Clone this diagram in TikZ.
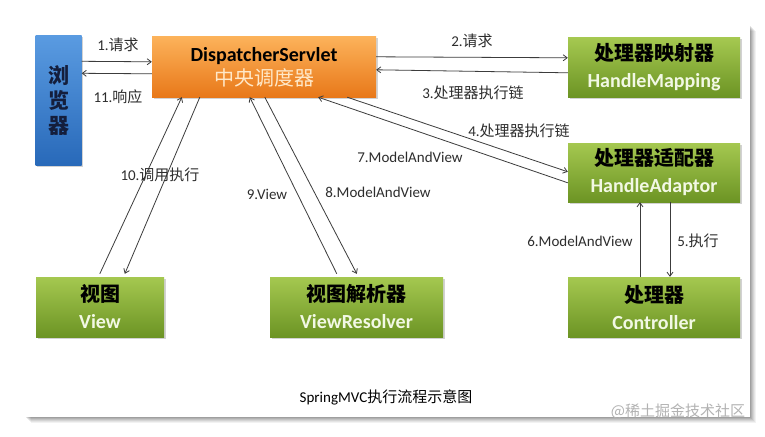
\documentclass[tikz,border=0pt]{standalone}
\usepackage{fontspec}
\setmainfont{Carlito}
\newfontfamily\cjk{Noto Sans CJK SC}
\usetikzlibrary{arrows.meta,shadows}
\definecolor{gtop}{RGB}{165,200,80}
\definecolor{gbot}{RGB}{108,148,36}
\definecolor{otop}{RGB}{252,178,90}
\definecolor{obot}{RGB}{232,120,25}
\definecolor{btop}{RGB}{90,155,225}
\definecolor{bbot}{RGB}{40,105,185}
\definecolor{gtext}{RGB}{242,248,228}
\definecolor{otext}{RGB}{255,232,200}
\definecolor{navy}{RGB}{20,30,60}
\definecolor{lbl}{RGB}{45,45,45}
\definecolor{ln}{RGB}{60,60,60}
\newcommand\zh[1]{{\cjk #1}}
\newcommand\zhb[1]{{\cjk\bfseries #1}}
\tikzset{
  boxbase/.style={inner sep=0pt, align=center, draw=none,
    drop shadow={opacity=0.35, shadow xshift=1.5pt, shadow yshift=-1.5pt}},
  greenbox/.style={boxbase, top color=gtop, bottom color=gbot,
    minimum width=172pt, minimum height=59pt,
    font=\fontsize{20}{27}\selectfont},
  orangebox/.style={boxbase, top color=otop, bottom color=obot,
    minimum width=224pt, minimum height=60pt,
    font=\fontsize{20}{24}\selectfont},
  bluebox/.style={boxbase, top color=btop, bottom color=bbot,
    minimum width=46pt, minimum height=130pt, text=navy,
    font=\fontsize{21}{25}\selectfont},
  arr/.style={draw=ln, line width=0.8pt, -{Straight Barb[length=4pt,width=6pt]}},
  lab/.style={text=lbl, font=\fontsize{15}{18}\selectfont, inner sep=1pt},
}
\begin{document}
\begin{tikzpicture}[x=1pt,y=-1pt]
\useasboundingbox (0,0) rectangle (765,436);
% panel shadow
\foreach \i/\o in {1/0.10,2/0.09,3/0.08,4/0.07,5/0.06,6/0.05}{
  \fill[black, opacity=\o] (25+\i,25+\i) rectangle (750+\i,417+\i);
}
\fill[white] (0,0) rectangle (750,417);

% nodes
\node[bluebox] (br) at (58.5,100.5) {\zhb{浏}\\\zhb{览}\\\zhb{器}};
\node[orangebox] (ds) at (264,67) {{\bfseries\color{black}DispatcherServlet}\\{\cjk\color{otext}中央调度器}};
\node[greenbox] (hm) at (654,67.5) {\zhb{处理器映射器}\\{\bfseries\color{gtext}HandleMapping}};
\node[greenbox] (ha) at (654,172.5) {\zhb{处理器适配器}\\{\bfseries\color{gtext}HandleAdaptor}};
\node[greenbox, minimum width=128pt, minimum height=60pt] (view) at (100,307) {\zhb{视图}\\{\bfseries\color{gtext}View}};
\node[greenbox, minimum width=173pt, minimum height=60pt] (vr) at (356.5,307) {\zhb{视图解析器}\\{\bfseries\color{gtext}ViewResolver}};
\node[greenbox, minimum height=60pt] (ctrl) at (654,307) {\zhb{处理器}\\{\bfseries\color{gtext}Controller}};

% connectors
\draw[arr] ([yshift=-26pt]br.north east) -- ([yshift=-25pt]ds.north west);
\draw[arr] ([yshift=-37pt]ds.north west) -- ([yshift=-38pt]br.north east);
\draw[arr] ([yshift=-20pt]ds.north east) -- ([yshift=-20pt]hm.north west);
\draw[arr] ([yshift=-35pt]hm.north west) -- ([yshift=-33pt]ds.north east);
\draw[arr] ([xshift=-29pt]ds.south east) -- ([yshift=-29pt]ha.north west);
\draw[arr] ([yshift=-40pt]ha.north west) -- ([xshift=-58pt]ds.south east);
\draw[arr] ([xshift=64pt,yshift=3pt]view.north west) -- ([xshift=30pt]ds.south west);
\draw[arr] ([xshift=48pt]ds.south west) -- ([xshift=89pt,yshift=3pt]view.north west);
\draw[arr] ([xshift=67pt,yshift=3pt]vr.north west) -- ([xshift=98pt]ds.south west);
\draw[arr] ([xshift=113pt]ds.south west) -- ([xshift=87pt,yshift=3pt]vr.north west);
\draw[arr] ([xshift=-14pt]ctrl.north) -- ([xshift=-14pt]ha.south);
\draw[arr] ([xshift=16pt]ha.south) -- ([xshift=16pt]ctrl.north);

% labels
\node[lab] (l1) at (118,45) {1.\zh{请求}};
\node[lab] (l11) at (118,97) {11.\zh{响应}};
\node[lab] (l2) at (472,41) {2.\zh{请求}};
\node[lab] (l3) at (473,93) {3.\zh{处理器执行链}};
\node[lab] (l4) at (519,131) {4.\zh{处理器执行链}};
\node[lab] (l7) at (410,157) {7.ModelAndView};
\node[lab] (l10) at (160,175) {10.\zh{调用执行}};
\node[lab] (l9) at (267,194) {9.View};
\node[lab] (l8) at (378,192) {8.ModelAndView};
\node[lab] (l6) at (580,241) {6.ModelAndView};
\node[lab] (l5) at (698,241) {5.\zh{执行}};
\node[lab, text=black] (cap) at (386,397) {SpringMVC\zh{执行流程示意图}};
\node[lab, text=black!30] (wm) at (678,411) {\zh{@稀土掘金技术社区}};
\end{tikzpicture}
\end{document}
